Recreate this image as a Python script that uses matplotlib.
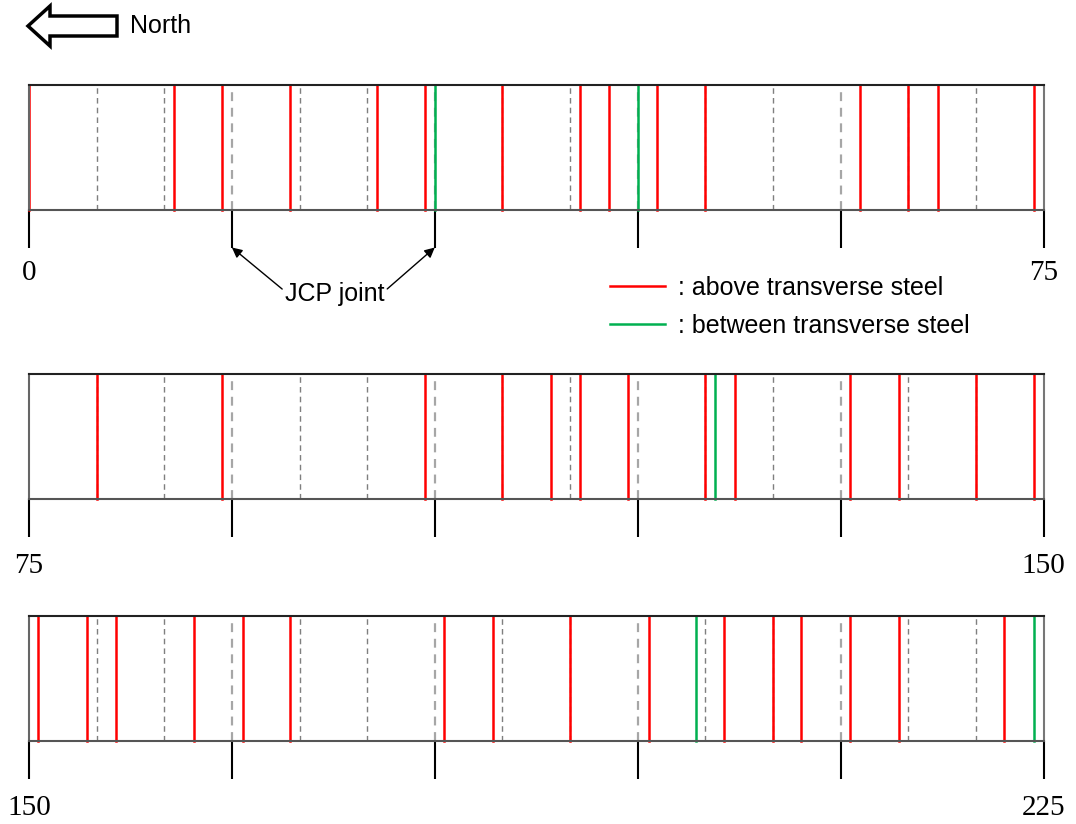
import matplotlib.pyplot as plt
import numpy as np
from matplotlib.patches import Polygon
from matplotlib.lines import Line2D

plt.rcParams['font.family'] = ['Liberation Sans', 'DejaVu Sans']

# crack positions (m) along the slab
above_steel = [0.0, 10.7, 14.3, 19.3, 25.7, 29.3, 35.0, 40.7, 42.9, 46.4, 50.0,
               61.4, 65.0, 67.2, 74.3,
               80.0, 89.3, 104.3, 110.0, 113.6, 115.7, 119.3, 125.0, 127.2,
               135.7, 139.3, 145.0, 149.3,
               150.7, 154.3, 156.4, 162.2, 165.8, 169.3, 180.7, 184.3, 190.0,
               195.8, 201.4, 205.0, 207.1, 210.7, 214.3, 222.1]
between_steel = [30.0, 45.0, 125.7, 199.3, 224.3]
segment_starts = [0, 75, 150]
seg_len = 75
jcp_joints = [15, 30]

W, H = 1076, 824
fig = plt.figure(figsize=(W / 100, H / 100), dpi=100)


def fx(x):
    return x / W


def fy(y):
    return 1 - y / H


strip_bottoms = [210, 499, 741]
label_pads = [9, 12, 12]
strip_h = 125
axes = []
for s, yb, pad in zip(segment_starts, strip_bottoms, label_pads):
    ax = fig.add_axes([fx(29), fy(yb), (1043.5 - 29) / W, strip_h / H])
    axes.append(ax)
    ax.set_xlim(s, s + seg_len)
    ax.set_ylim(0, 1)
    ax.set_yticks([])

    # slab joints every 5 m (dashed)
    for x in np.arange(s + 5, s + seg_len, 5):
        if x % 15 == 0:
            ax.axvline(x, color='#a6a6a6', lw=1.6, ls=(0, (4, 3)), zorder=1)
        else:
            ax.axvline(x, color='#7f7f7f', lw=1.0, ls=(0, (4, 3)), zorder=1)

    for x in above_steel:
        if s <= x < s + seg_len:
            ax.axvline(x, color='#ff0000', lw=1.8, zorder=2, clip_on=False)
    for x in between_steel:
        if s <= x < s + seg_len:
            ax.axvline(x, color='#00b050', lw=1.8, zorder=2, clip_on=False)

    ticks = np.arange(s, s + seg_len + 1, 15)
    ax.set_xticks(ticks)
    ax.set_xticklabels([str(s)] + [''] * (len(ticks) - 2) + [str(s + seg_len)],
                       family='Liberation Serif', fontsize=21)
    ax.tick_params(axis='x', length=27, width=1.5, color='black', pad=pad)

    ax.spines['top'].set_color('#222222')
    ax.spines['bottom'].set_color('#555555')
    ax.spines['left'].set_color('#666666')
    ax.spines['right'].set_color('#777777')
    for sp in ax.spines.values():
        sp.set_linewidth(1.5)

# JCP joint annotation
ax1 = axes[0]
tip_y = -27 * 100 / 72 / strip_h
for i, (xj, rel) in enumerate(zip(jcp_joints, [(0.0, 0.6), (1.0, 0.6)])):
    ax1.annotate('JCP joint', xy=(xj, tip_y), xytext=(22.6, -0.67),
                 xycoords=('data', 'axes fraction'),
                 textcoords=('data', 'axes fraction'),
                 ha='center', va='center', fontsize=18,
                 color='black' if i == 0 else 'none',
                 arrowprops=dict(arrowstyle='-|>', color='black', lw=1,
                                 mutation_scale=15, shrinkA=0, shrinkB=0,
                                 relpos=rel))

# legend
handles = [Line2D([], [], color='#ff0000', lw=1.8),
           Line2D([], [], color='#00b050', lw=1.8)]
fig.legend(handles, [': above transverse steel', ': between transverse steel'],
           loc='upper left', bbox_to_anchor=(fx(610), fy(276)), frameon=False,
           fontsize=18, handlelength=2.2, handletextpad=0.5,
           labelspacing=0.55, borderaxespad=0, borderpad=0)

# north arrow
pts = [(28, 26), (50, 6), (50, 16), (117, 16), (117, 36), (50, 36), (50, 46)]
fig.patches.append(Polygon([(fx(x), fy(y)) for x, y in pts], closed=True,
                           facecolor='white', edgecolor='black', lw=2.5,
                           transform=fig.transFigure, figure=fig))
fig.text(fx(130), fy(26), 'North', va='center', ha='left', fontsize=18)

fig.savefig('out.png', dpi=100)
